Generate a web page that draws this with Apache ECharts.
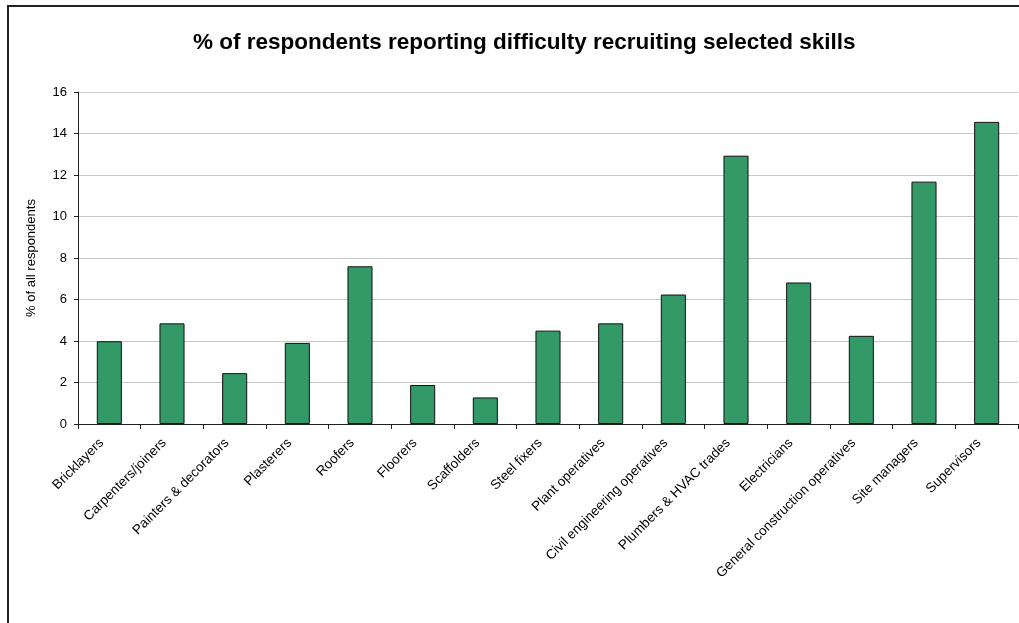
<!DOCTYPE html>
<html><head><meta charset="utf-8">
<script src="https://cdn.jsdelivr.net/npm/echarts@6/dist/echarts.min.js"></script>
<style>
html,body{margin:0;padding:0;background:#fff;overflow:hidden;}
#frame{position:absolute;left:7px;top:5px;width:1100px;height:700px;border:2px solid #222;box-sizing:border-box;}
#chart{position:absolute;left:0;top:0;width:1019px;height:623px;}
</style></head>
<body>
<div id="frame"></div>
<div id="chart"></div>
<script>
const titleText = '% of respondents reporting difficulty recruiting selected skills';
const yAxisName = '% of all respondents';
const categories = ['Bricklayers','Carpenters/joiners','Painters & decorators','Plasterers','Roofers','Floorers','Scaffolders','Steel fixers','Plant operatives','Civil engineering operatives','Plumbers & HVAC trades','Electricians','General construction operatives','Site managers','Supervisors'];
const values = [3.99, 4.85, 2.45, 3.91, 7.6, 1.88, 1.28, 4.5, 4.85, 6.24, 12.93, 6.82, 4.25, 11.68, 14.56];
const yTicks = {min:0, max:16, interval:2};

const chart = echarts.init(document.getElementById('chart'), null, {renderer:'canvas'});
chart.setOption({
  backgroundColor:'transparent',
  animation:false,
  title:{text:titleText,left:188,top:26,textStyle:{fontFamily:'Liberation Sans',fontSize:22.5,fontWeight:'bold',color:'#000'}},
  grid:{left:78,right:1,top:92,bottom:199,containLabel:false},
  xAxis:{type:'category',data:categories,
    axisLine:{lineStyle:{color:'#222',width:1}},
    axisTick:{show:true,alignWithLabel:false,length:5,lineStyle:{color:'#222'}},
    axisLabel:{rotate:45,interval:0,fontFamily:'Liberation Sans',fontSize:13.5,color:'#000',margin:9,padding:[0,11,0,0]}
  },
  yAxis:{type:'value',min:yTicks.min,max:yTicks.max,interval:yTicks.interval,
    name:yAxisName,nameLocation:'middle',nameGap:40,nameRotate:90,
    nameTextStyle:{fontFamily:'Liberation Sans',fontSize:13,color:'#000'},
    axisLine:{show:true,lineStyle:{color:'#222',width:1}},
    axisTick:{show:true,length:4,lineStyle:{color:'#222'}},
    axisLabel:{fontFamily:'Liberation Sans',fontSize:13,color:'#000',margin:11},
    splitLine:{lineStyle:{color:'#c8c8c8',width:1}}
  },
  series:[{type:'bar',data:values,barWidth:'40%',
    itemStyle:{color:'#339966',borderColor:'#111',borderWidth:1}}]
});
</script>
</body></html>
